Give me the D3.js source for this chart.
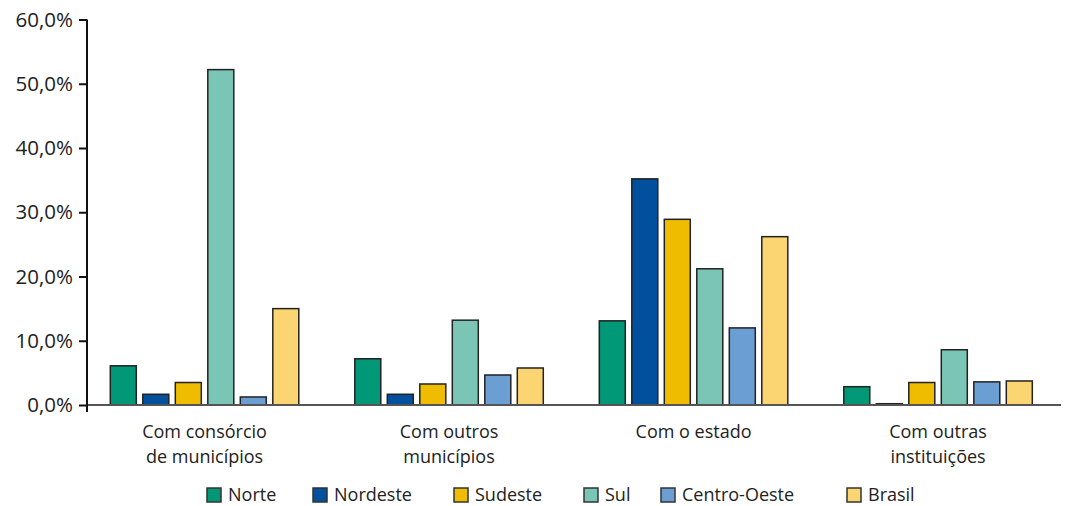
<!DOCTYPE html>
<html><head><meta charset="utf-8">
<script src="https://cdn.jsdelivr.net/npm/d3@7"></script>
<style>
html,body{margin:0;padding:0;background:#fff;}
svg{display:block;}
text{font-family:"Open Sans",sans-serif;fill:#222;}
</style></head>
<body>
<svg id="chart" width="1069" height="506"></svg>
<script>
const categories = [["Com consórcio","de municípios"],["Com outros","municípios"],["Com o estado"],["Com outras","instituições"]];
const seriesNames = ["Norte","Nordeste","Sudeste","Sul","Centro-Oeste","Brasil"];
const norte      = [6.1, 7.2, 13.1, 2.85];
const nordeste   = [1.67, 1.67, 35.2, 0.2];
const sudeste    = [3.5, 3.27, 28.9, 3.5];
const sul        = [52.2, 13.2, 21.2, 8.6];
const centroOeste= [1.25, 4.67, 12.0, 3.6];
const brasil     = [15.0, 5.76, 26.2, 3.74];
const yTicks = [0,10,20,30,40,50,60];

const values = [norte, nordeste, sudeste, sul, centroOeste, brasil];
const colors = ["#009877","#00509e","#f0bc00","#7ac5b5","#6b9ed3","#fcd573"];
const legendX = [207, 313, 454, 584, 661, 847];

const svg = d3.select("#chart");
const catKeys = categories.map(c => c.join(" "));
const x0 = d3.scaleBand().domain(catKeys).range([82.3, 1060.3]).padding(0);
const x1 = d3.scaleBand().domain(seriesNames).range([28, 216.5]).paddingInner(0.2).paddingOuter(0);
const y = d3.scaleLinear().domain([0, 60]).range([405, 19.5]);

// bars
const g = svg.append("g");
catKeys.forEach((ck, ci) => {
  seriesNames.forEach((s, si) => {
    const v = values[si][ci];
    g.append("rect")
      .attr("x", x0(ck) + x1(s))
      .attr("y", y(v))
      .attr("width", x1.bandwidth())
      .attr("height", y(0) - y(v))
      .attr("fill", colors[si])
      .attr("stroke", "#222")
      .attr("stroke-width", 1.5);
  });
});

// x baseline
svg.append("line").attr("x1", 87).attr("x2", 1061).attr("y1", y(0)).attr("y2", y(0))
  .attr("stroke", "#555").attr("stroke-width", 2);

// y axis
const yAxis = d3.axisLeft(y).tickValues(yTicks).tickSize(8).tickPadding(6)
  .tickFormat(d => d3.format(".1f")(d).replace(".", ",") + "%");
const ya = svg.append("g").attr("transform", "translate(87,0)").call(yAxis);
ya.select(".domain").remove();
ya.selectAll(".tick line").attr("stroke", "#111").attr("stroke-width", 2);
ya.selectAll(".tick text").attr("font-size", 20.5).attr("fill", "#222").style("font-family", '"Open Sans",sans-serif');
ya.append("line").attr("x1", 0).attr("x2", 0).attr("y1", y(60)).attr("y2", 412)
  .attr("stroke", "#111").attr("stroke-width", 2);

// category labels
catKeys.forEach((ck, ci) => {
  const cx = x0(ck) + x0.bandwidth() / 2;
  categories[ci].forEach((line, li) => {
    svg.append("text").attr("text-anchor", "middle").attr("font-size", 18)
      .attr("x", cx).attr("y", 438 + li * 24.8).text(line);
  });
});

// legend
seriesNames.forEach((s, si) => {
  svg.append("rect").attr("x", legendX[si]).attr("y", 488).attr("width", 14).attr("height", 14)
    .attr("fill", colors[si]).attr("stroke", "#333").attr("stroke-width", 1.5);
  svg.append("text").attr("x", legendX[si] + 21).attr("y", 501).attr("font-size", 18).text(s);
});
</script>
</body></html>
